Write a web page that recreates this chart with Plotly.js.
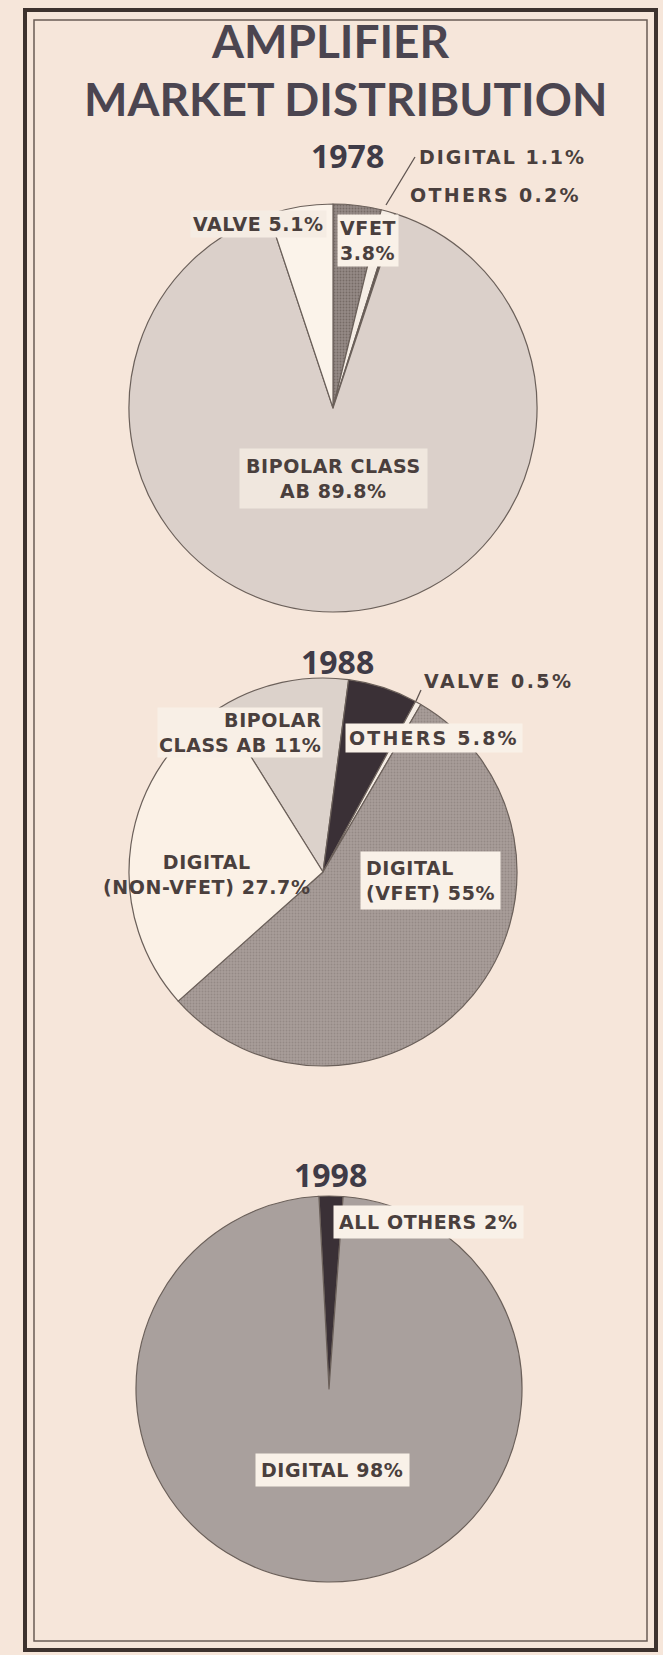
<!DOCTYPE html>
<html><head><meta charset="utf-8">
<script src="https://cdn.plot.ly/plotly-3.0.1.min.js"></script>
<style>html,body{margin:0;padding:0;background:#f6e6da;}</style>
</head><body><div id="chart" style="width:663px;height:1655px;"></div>
<script>
// ---- data ----
const years = ['1978', '1988', '1998'];

const names1 = ['VFET', 'DIGITAL', 'OTHERS', 'BIPOLAR CLASS AB', 'VALVE'];
const values1 = [3.8, 1.1, 0.2, 89.8, 5.1];
const disp1 = ['VFET<br>', 'DIGITAL ', 'OTHERS ', 'BIPOLAR CLASS<br>AB ', 'VALVE '];

const names2 = ['BIPOLAR CLASS AB', 'OTHERS', 'VALVE', 'DIGITAL (VFET)', 'DIGITAL (NON-VFET)'];
const values2 = [11, 5.8, 0.5, 55, 27.7];
const disp2 = ['BIPOLAR<br>CLASS AB ', 'OTHERS ', 'VALVE ', 'DIGITAL<br>(VFET) ', 'DIGITAL<br>(NON-VFET) '];

const names3 = ['ALL OTHERS', 'DIGITAL'];
const values3 = [2, 98];
const disp3 = ['ALL OTHERS ', 'DIGITAL '];

// ---- style ----
const W = 663, H = 1655;
const BG = '#f6e6da';
const INK = '#4a3f3d';
const colors1 = ['#958a86', '#f5ede5', '#5a4f4c', '#dbd0ca', '#fbf3ea'];
const colors2 = ['#dcd2cb', '#3a3036', '#f5ede5', '#a89d99', '#fbf1e6'];
const colors3 = ['#3a3036', '#a9a09d'];
const px = x => x / W;
const py = y => 1 - y / H;

function pie(names, values, colors, cx, cy, r, rot, dots, dotc) {
  const t = {
    type: 'pie', labels: names, values: values, sort: false,
    direction: 'clockwise', rotation: rot, textinfo: 'none', hoverinfo: 'label+percent',
    showlegend: false,
    domain: {x: [px(cx - r), px(cx + r)], y: [py(cy + r), py(cy - r)]},
    marker: {colors: colors, line: {color: '#6b605a', width: 1.2}}
  };
  if (dots) {
    t.marker.pattern = {shape: dots, bgcolor: colors, fgcolor: dotc, size: 3, solidity: 0.3};
  }
  return t;
}

const data = [
  pie(names1, values1, colors1, 333, 408, 204, 0, ['.', '', '', '', ''],
      ['#766b66', '#f5ede5', '#5a4f4c', '#dbd0ca', '#fbf3ea']),
  pie(names2, values2, colors2, 323, 872, 194, -32, ['', '', '', '.', ''],
      ['#dcd2cb', '#3a3036', '#f5ede5', '#948985', '#fbf1e6']),
  pie(names3, values3, colors3, 329, 1389, 193, -3, null, null)
];

const LF = {family: 'DejaVu Sans', size: 19, color: INK, weight: 'bold'};
const sp = (s, ls) => s.split('<br>').map(l => '<span style="letter-spacing:' + ls + 'px">' + l + '</span>').join('<br>');
function lab(text, x, y, opt, ls) {
  return Object.assign({
    text: sp(text, ls === undefined ? 0.6 : ls), x: px(x), y: py(y), xref: 'paper', yref: 'paper',
    showarrow: false, font: LF, xanchor: 'center', yanchor: 'middle', align: 'center'
  }, opt || {});
}
const plain = (text, x, y, font) => ({
  text: text, x: px(x), y: py(y), xref: 'paper', yref: 'paper',
  showarrow: false, font: font, xanchor: 'center', yanchor: 'middle'
});
const yearFont = {family: 'Open Sans, DejaVu Sans Condensed, sans-serif', size: 32, color: '#3f3b47', weight: 'bold', stretch: 'condensed'};
const titleFont = {family: 'Lato, sans-serif', size: 46, color: '#4b4550', weight: 'bold'};
const t1 = (i) => disp1[i] + values1[i] + '%';
const t2 = (i) => disp2[i] + values2[i] + '%';
const t3 = (i) => disp3[i] + values3[i] + '%';
const WB = '#f9f1e8';

const annotations = [
  plain('AMPLIFIER', 330, 41, titleFont),
  plain('MARKET DISTRIBUTION', 345, 99, titleFont),
  // 1978
  plain(years[0], 347, 155, yearFont),
  lab(t1(1), 417, 157, {xanchor: 'left'}, 2),
  lab(t1(2), 408, 195, {xanchor: 'left'}, 2.3),
  lab(t1(0), 337, 241, {xanchor: 'left', align: 'left', bgcolor: WB, borderpad: 2}),
  lab(t1(4), 327, 224, {xanchor: 'right', bgcolor: '#f5ece3', borderpad: 2}),
  lab(t1(3), 333, 479, {bgcolor: '#f0e7de', borderpad: 6}),
  // 1988
  plain(years[1], 337, 661, yearFont),
  lab(t2(2), 422, 681, {xanchor: 'left'}, 2.5),
  lab(t2(0), 323, 732, {xanchor: 'right', align: 'right', bgcolor: '#f8efe6', borderpad: 1}),
  lab(t2(1), 345, 738, {xanchor: 'left', bgcolor: WB, borderpad: 3}, 2.2),
  lab(t2(4), 207, 874),
  lab(t2(3), 360, 880, {xanchor: 'left', align: 'left', bgcolor: WB, borderpad: 5}),
  // 1998
  plain(years[2], 330, 1174, yearFont),
  lab(t3(0), 333, 1222, {xanchor: 'left', bgcolor: WB, borderpad: 5}),
  lab(t3(1), 332, 1470, {bgcolor: WB, borderpad: 5})
];

const frame = (x0, y0, x1, y1, w, c) => ({
  type: 'rect', xref: 'paper', yref: 'paper', x0: px(x0), x1: px(x1), y0: py(y0), y1: py(y1),
  line: {color: c, width: w}, fillcolor: 'rgba(0,0,0,0)', layer: 'below'
});
const seg = (x0, y0, x1, y1) => ({
  type: 'line', xref: 'paper', yref: 'paper', x0: px(x0), x1: px(x1), y0: py(y0), y1: py(y1),
  line: {color: '#5f5450', width: 1.3}
});

const layout = {
  width: W, height: H, margin: {l: 0, r: 0, t: 0, b: 0},
  paper_bgcolor: BG, plot_bgcolor: BG,
  annotations: annotations,
  shapes: [
    frame(25, 10, 656, 1650, 4, '#3d322e'),
    frame(34, 20, 647, 1641, 1.5, '#6a5c55'),
    seg(415, 157, 386, 205),
    seg(421, 690, 416, 701)
  ]
};

Plotly.newPlot('chart', data, layout, {displayModeBar: false, staticPlot: true});
</script></body></html>
